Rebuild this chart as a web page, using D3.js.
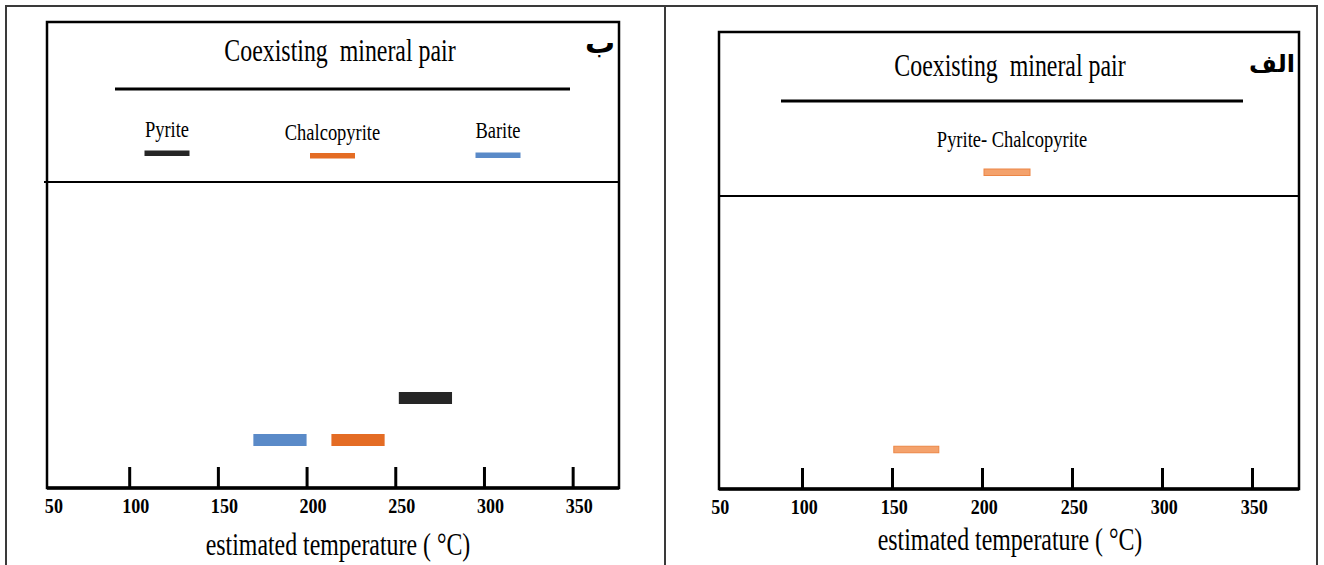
<!DOCTYPE html>
<html>
<head>
<meta charset="utf-8">
<script src="https://cdn.jsdelivr.net/npm/d3@7"></script>
<style>
  body { margin: 0; background: #fff; }
  svg { display: block; }
  text { white-space: pre; }
</style>
</head>
<body>
<div id="chart"></div>
<script>
// temperature ticks on both panels
const tickValues = [50, 100, 150, 200, 250, 300, 350];
const xLabel = "estimated temperature ( °C)";
const panelTitle = "Coexisting  mineral pair";

// panel "ب" : single minerals
const mineralsB = ["Pyrite", "Chalcopyrite", "Barite"];
const colorsB = ["#262626", "#E46C24", "#5A8AC8"];
const lowB = [252, 214, 170];
const highB = [282, 244, 200];
const rowB = [2, 1, 1];

// panel "الف" : mineral pair
const pairsA = ["Pyrite- Chalcopyrite"];
const colorsA = ["#F4A26C"];
const lowA = [151];
const highA = [176];
const rowA = [1];

const squeeze = 0.77; // the source type is horizontally condensed
const serif = "'Liberation Serif', 'Times New Roman', serif";

let svg = d3.select("#chart").append("svg")
    .attr("width", 1324)
    .attr("height", 565);

// outer frame of the two figure cells
let frame = svg.append("g")
    .style("stroke", "#3a3a3a")
    .style("stroke-width", 2)
    .style("fill", "none");
frame.append("path").attr("d", "M6,570 V6 H1317 V570");
frame.append("line").attr("x1", 665).attr("x2", 665).attr("y1", 6).attr("y2", 570);

let condensedText = function(g, cx, cy, str, size, weight) {
    return g.append("text")
        .attr("transform", "translate(" + cx + "," + cy + ") scale(" + squeeze + ",1)")
        .attr("text-anchor", "middle")
        .attr("xml:space", "preserve")
        .style("font-family", serif)
        .style("font-size", size + "px")
        .style("font-weight", weight || "normal")
        .style("fill", "#000")
        .text(str);
};

function drawPanel(p) {
    let g = svg.append("g");

    let x = d3.scaleLinear().domain([50, 375]).range(p.xRange);
    let y = d3.scaleLinear().domain(p.rowDomain).range(p.rowRange);

    // box
    g.append("rect")
        .attr("x", p.box[0])
        .attr("y", p.top)
        .attr("width", p.box[1] - p.box[0])
        .attr("height", p.axisY - p.top)
        .style("fill", "none")
        .style("stroke", "#000")
        .style("stroke-width", 2.5);
    g.append("line")
        .attr("x1", p.box[0] - p.sepOverhang).attr("x2", p.box[1])
        .attr("y1", p.sepY).attr("y2", p.sepY)
        .style("stroke", "#000").style("stroke-width", 2);
    g.append("line")
        .attr("x1", p.box[0]).attr("x2", p.box[1])
        .attr("y1", p.axisY).attr("y2", p.axisY)
        .style("stroke", "#000").style("stroke-width", 3.5);

    // header
    condensedText(g, p.titleX, p.titleY, panelTitle, 31);
    g.append("line")
        .attr("x1", p.rule[0]).attr("x2", p.rule[1])
        .attr("y1", p.ruleY).attr("y2", p.ruleY)
        .style("stroke", "#000").style("stroke-width", 3);
    g.append("text")
        .attr("x", p.tag[0]).attr("y", p.tag[1])
        .attr("text-anchor", "middle")
        .style("font-family", "'DejaVu Sans', sans-serif")
        .style("font-weight", "bold")
        .style("font-size", p.tagSize + "px")
        .text(p.tagText);

    // legend
    let lx = d3.scalePoint().domain(p.names).range(p.legendRange);
    p.names.forEach(function(name, i) {
        condensedText(g, lx(name), p.legendTextY[i], name, p.legendSize);
        g.append("rect")
            .attr("x", lx(name) - p.legendW / 2 + p.legendBarDx)
            .attr("y", p.legendBarY[i])
            .attr("width", p.legendW)
            .attr("height", p.legendH)
            .style("fill", p.colors[i])
            .style("stroke", p.stroke || "none")
            .style("stroke-width", 1);
    });

    // temperature ranges
    g.selectAll(".range")
        .data(p.names.map(function(n, i) { return {name: n, lo: p.low[i], hi: p.high[i], row: p.row[i], color: p.colors[i]}; }))
      .enter().append("rect")
        .attr("class", "range")
        .attr("x", function(d) { return x(d.lo); })
        .attr("y", function(d) { return y(d.row) - p.barH / 2; })
        .attr("width", function(d) { return x(d.hi) - x(d.lo); })
        .attr("height", p.barH)
        .style("fill", function(d) { return d.color; })
        .style("stroke", p.stroke || "none")
        .style("stroke-width", 1);

    // axis with inward ticks
    let axis = g.append("g")
        .attr("transform", "translate(0," + p.axisY + ")")
        .call(d3.axisBottom(x)
            .tickValues(tickValues)
            .tickSizeInner(-21)
            .tickSizeOuter(0)
            .tickPadding(10));
    axis.select(".domain").remove();
    axis.selectAll(".tick").filter(function(d) { return d === 50; }).select("line").remove();
    axis.selectAll(".tick line")
        .style("stroke", "#000")
        .style("stroke-width", 3);
    axis.selectAll(".tick text")
        .attr("dx", function(d) { return d === 50 ? p.labelDx + p.firstDx : p.labelDx; })
        .attr("transform", "scale(0.86,1)")
        .style("font-family", serif)
        .style("font-weight", "bold")
        .style("font-size", "21px")
        .style("fill", "#000");

    condensedText(g, p.xLabelX, p.xLabelY, xLabel, 31);
}

drawPanel({
    names: mineralsB, colors: colorsB, low: lowB, high: highB, row: rowB,
    xRange: [40.5, 617], box: [47, 619], top: 22, sepY: 182, sepOverhang: 3, axisY: 488,
    rowDomain: [0, 2], rowRange: [482, 398], barH: 12,
    titleX: 340, titleY: 61, rule: [115, 570], ruleY: 89,
    tag: [600, 53], tagText: "ب", tagSize: 30,
    legendRange: [167, 498], legendTextY: [137, 140, 138], legendBarY: [150.5, 153, 152.5],
    legendBarDx: 0, legendW: 45, legendH: 5.5, legendSize: 24,
    labelDx: 7, firstDx: 8, xLabelX: 338, xLabelY: 555
});

drawPanel({
    names: pairsA, colors: colorsA, low: lowA, high: highA, row: rowA, stroke: "#EC8646",
    xRange: [712, 1297], box: [719, 1299], top: 32, sepY: 196, sepOverhang: 0, axisY: 489,
    rowDomain: [0, 1], rowRange: [489, 449.5], barH: 6.5,
    titleX: 1010, titleY: 76, rule: [781, 1243], ruleY: 101,
    tag: [1272, 72], tagText: "الف", tagSize: 24,
    legendRange: [1012, 1012], legendTextY: [147], legendBarY: [169],
    legendBarDx: -5, legendW: 46, legendH: 6.5, legendSize: 24,
    labelDx: 2, firstDx: 7, xLabelX: 1010, xLabelY: 550
});
</script>
</body>
</html>
